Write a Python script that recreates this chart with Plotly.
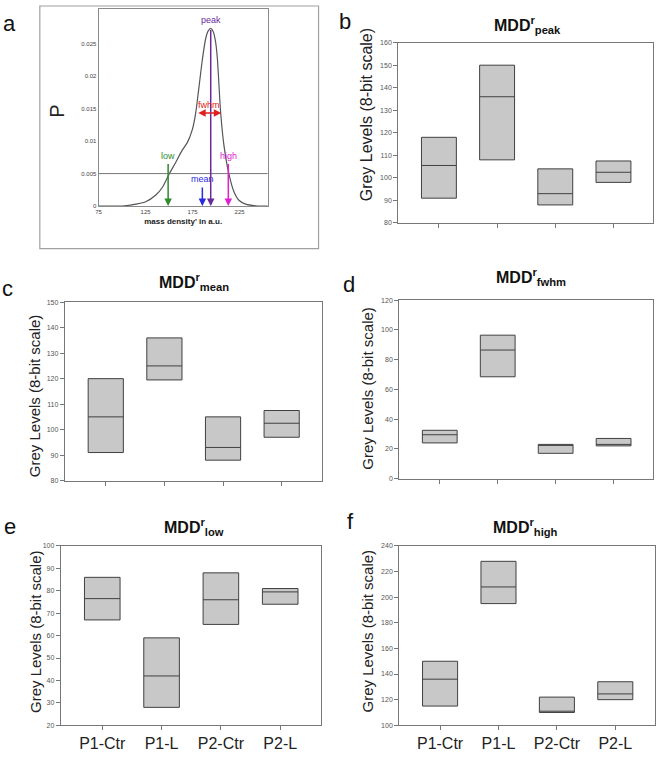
import plotly.graph_objects as go

W, H = 658, 759

# ---------------- data ----------------
categories = ["P1-Ctr", "P1-L", "P2-Ctr", "P2-L"]
cat_pos = [0, 1, 2, 3]

peak_q1 = [91, 108, 88, 98]
peak_med = [105.5, 136, 93, 102.5]
peak_q3 = [118, 150, 104, 107.5]

mean_q1 = [91, 119.5, 88, 97]
mean_med = [105, 125, 93, 102.5]
mean_q3 = [120, 136, 105, 107.5]

fwhm_q1 = [24, 68.5, 17, 22]
fwhm_med = [29.5, 86.5, 22.5, 23]
fwhm_q3 = [32.5, 96.5, 23, 27]

low_q1 = [67, 28, 65, 74]
low_med = [76.5, 42, 76, 79.5]
low_q3 = [86, 59, 88, 81]

high_q1 = [115, 195, 110, 120]
high_med = [136, 208, 111, 124.5]
high_q3 = [150, 228, 122, 134]

# density curve of panel a
dens_x = [75, 90, 100.5, 114.6, 125.2, 135.9, 143, 150, 157, 164, 169.5, 174.8, 178.3,
          181.9, 185.4, 189, 191.5, 194.3, 197, 199.5, 201.3, 204.9, 208.4, 213.7, 219,
          224.3, 231.4, 242, 255]
dens_p = [0, 0, 0.00002, 0.0003, 0.00066, 0.0017, 0.0029, 0.0049, 0.0067, 0.0086, 0.0098,
          0.0118, 0.0143, 0.0184, 0.0225, 0.0258, 0.0269, 0.0273, 0.0268, 0.0252, 0.0228,
          0.0143, 0.0093, 0.0049, 0.0022, 0.0009, 0.0003, 0.00005, 0]
threshold_p = 0.005

marker_names = ["low", "mean", "peak", "high"]
marker_x = [149, 185.4, 194.3, 213]
marker_top = [0.0067, 0.0031, 0.0273, 0.0067]
marker_label_p = [0.0077, 0.0041, 0.0286, 0.0077]
marker_colors = ["#2e8b2e", "#2a2ae0", "#6a2a9a", "#e020d0"]
fwhm_left, fwhm_right, fwhm_p = 179.4, 205.6, 0.0143

a_xticks = [75, 125, 175, 225]
a_yticks = [0, 0.005, 0.01, 0.015, 0.02, 0.025]
a_yticklabels = ["0", "0.005", "0.01", "0.015", "0.02", "0.025"]

panels = [
    dict(name="peak", q1=peak_q1, med=peak_med, q3=peak_q3, rng=[80, 160], dt=10,
         px=(397, 653), py=(39, 221), label="b", lab_xy=(344, 18), title_xy=(527, 21),
         ytitle_xy=(366, 112), ytfs=16, show_cats=False),
    dict(name="mean", q1=mean_q1, med=mean_med, q3=mean_q3, rng=[80, 150], dt=10,
         px=(62, 320), py=(301, 481), label="c", lab_xy=(5, 287), title_xy=(192, 281),
         ytitle_xy=(32, 395), ytfs=15, show_cats=False),
    dict(name="fwhm", q1=fwhm_q1, med=fwhm_med, q3=fwhm_q3, rng=[0, 120], dt=20,
         px=(398, 653), py=(299, 479), label="d", lab_xy=(348, 283), title_xy=(530, 276),
         ytitle_xy=(366, 388), ytfs=15, show_cats=False),
    dict(name="low", q1=low_q1, med=low_med, q3=low_q3, rng=[20, 100], dt=10,
         px=(58, 319), py=(547, 728), label="e", lab_xy=(7, 527), title_xy=(192, 528),
         ytitle_xy=(32, 633), ytfs=15, show_cats=True),
    dict(name="high", q1=high_q1, med=high_med, q3=high_q3, rng=[100, 240], dt=20,
         px=(398, 655), py=(547, 728), label="f", lab_xy=(349, 522), title_xy=(525, 528),
         ytitle_xy=(366, 633), ytfs=15, show_cats=True),
]

FONT = "Arial, Liberation Sans, sans-serif"


def fx(px):
    return px / W


def fy(py):
    return 1 - py / H


fig = go.Figure()
layout = dict(width=W, height=H, margin=dict(l=0, r=0, t=0, b=0), autosize=False,
              paper_bgcolor="white", plot_bgcolor="white", showlegend=False,
              font=dict(family=FONT, color="#222"))
annotations = []
shapes = []


def txt(x, y, text, size, color="#111", angle=0):
    annotations.append(dict(x=fx(x), y=fy(y), xref="paper", yref="paper", text=text,
                            showarrow=False, textangle=angle, xanchor="center",
                            yanchor="middle", font=dict(size=size, color=color)))


# ---------------- panel a ----------------
layout["xaxis"] = dict(domain=[fx(96), fx(266)], range=[75, 255], tickvals=a_xticks,
                       tickfont=dict(size=6, color="#444"), showline=True, mirror=True,
                       linecolor="#8a8a8a", linewidth=1, showgrid=False, zeroline=False,
                       ticks="", title=dict(text="<b>mass density' in a.u.</b>",
                                            font=dict(size=8, color="#222"), standoff=4),
                       anchor="y")
layout["yaxis"] = dict(domain=[fy(204), fy(5)], range=[0, 0.0303], tickvals=a_yticks,
                       ticktext=a_yticklabels, tickfont=dict(size=6, color="#444"),
                       showline=True, mirror=True, linecolor="#8a8a8a", linewidth=1,
                       showgrid=False, zeroline=False, ticks="", anchor="x")

fig.add_trace(go.Scatter(x=dens_x, y=dens_p, mode="lines", line=dict(color="#555", width=1.2,
                         shape="spline", smoothing=0.8), xaxis="x", yaxis="y",
                         hoverinfo="skip"))
fig.add_trace(go.Scatter(x=[75, 255], y=[threshold_p, threshold_p], mode="lines",
                         line=dict(color="#777", width=1), xaxis="x", yaxis="y",
                         hoverinfo="skip"))

for nm, mx, mt, ml, col in zip(marker_names, marker_x, marker_top, marker_label_p, marker_colors):
    annotations.append(dict(x=mx, y=0, ax=mx, ay=mt, xref="x", yref="y", axref="x", ayref="y",
                            showarrow=True, arrowhead=2, arrowsize=1, arrowwidth=1.5,
                            arrowcolor=col, text=""))
    annotations.append(dict(x=mx, y=ml, xref="x", yref="y", text=nm, showarrow=False,
                            xanchor="center", yanchor="middle", font=dict(size=9, color=col)))
annotations.append(dict(x=fwhm_right, y=fwhm_p, ax=fwhm_left, ay=fwhm_p, xref="x", yref="y",
                        axref="x", ayref="y", showarrow=True, arrowhead=2, startarrowhead=2,
                        arrowside="end+start", arrowsize=1, arrowwidth=1.5,
                        arrowcolor="#e02020", text=""))
annotations.append(dict(x=(fwhm_left + fwhm_right) / 2, y=fwhm_p + 0.0012, xref="x", yref="y",
                        text="fwhm", showarrow=False, xanchor="center", yanchor="middle",
                        font=dict(size=9, color="#e02020")))
txt(54, 108, "P", 20, "#222", -90)
txt(7, 20, "a", 22)
shapes.append(dict(type="rect", xref="paper", yref="paper", x0=fx(37), x1=fx(317),
                   y0=fy(247), y1=fy(2), line=dict(color="#a0a0a0", width=1.2)))

# ---------------- panels b-f ----------------
for i, p in enumerate(panels):
    k = i + 2
    xa, ya = f"xaxis{k}", f"yaxis{k}"
    xr, yr = f"x{k}", f"y{k}"
    ticks = list(range(p["rng"][0], p["rng"][1] + 1, p["dt"]))
    layout[xa] = dict(domain=[fx(p["px"][0]), fx(p["px"][1])], range=[-0.7, 3.68],
                      tickvals=cat_pos, ticktext=categories, showticklabels=p["show_cats"],
                      ticks="outside", ticklen=4, tickcolor="#777", showline=True, mirror=True,
                      linecolor="#777", linewidth=1, showgrid=False, zeroline=False,
                      tickfont=dict(size=16, color="#222"), anchor=yr)
    layout[ya] = dict(domain=[fy(p["py"][1]), fy(p["py"][0])], range=p["rng"], tickvals=ticks,
                      ticks="outside", ticklen=4, tickcolor="#777", showline=True, mirror=True,
                      linecolor="#777", linewidth=1, showgrid=False, zeroline=False,
                      tickfont=dict(size=7, color="#555"), anchor=xr)
    fig.add_trace(go.Box(x=cat_pos, q1=p["q1"], median=p["med"], q3=p["q3"],
                         lowerfence=p["q1"], upperfence=p["q3"], width=0.6, whiskerwidth=0,
                         boxpoints=False, fillcolor="#c8c8c8",
                         line=dict(color="#404040", width=1), xaxis=xr, yaxis=yr,
                         hoverinfo="skip"))
    txt(p["title_xy"][0], p["title_xy"][1], f"<b>MDD<sup>r</sup><sub>{p['name']}</sub></b>", 16)
    txt(p["lab_xy"][0], p["lab_xy"][1], p["label"], 22)
    txt(p["ytitle_xy"][0], p["ytitle_xy"][1], "Grey Levels (8-bit scale)", p["ytfs"], "#222", -90)

layout["annotations"] = annotations
layout["shapes"] = shapes
fig.update_layout(**layout)
fig.write_html("out.html", config={"displayModeBar": False},
               post_script="document.body.style.margin='0';document.body.style.padding='0';"
                           "document.body.style.overflow='hidden';")
